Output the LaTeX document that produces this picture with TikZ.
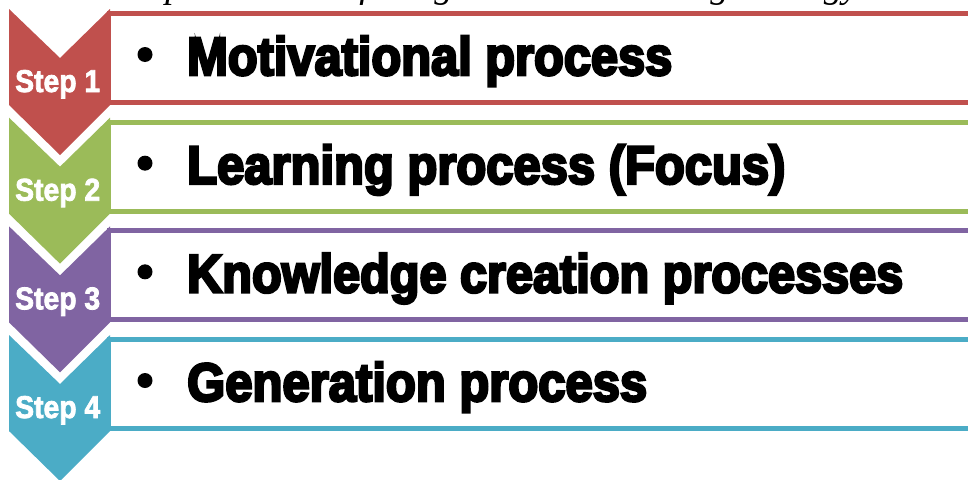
\documentclass[tikz,border=0pt]{standalone}
\usepackage{fontspec}
\usepackage{graphicx}
\setmainfont{Liberation Serif}
\newfontfamily\heavyfont[FakeBold=5]{Liberation Sans}
\newfontfamily\stepfont[FakeBold=2.5]{Liberation Sans}
\definecolor{cRed}{HTML}{C0504D}
\definecolor{cGreen}{HTML}{9BBB59}
\definecolor{cPurple}{HTML}{8064A2}
\definecolor{cTeal}{HTML}{4BACC6}
\tikzset{
  itembox/.style={line width=4.7pt, fill=white},
  steplabel/.style={anchor=base west, inner sep=0pt, text=white},
  itemtext/.style={anchor=base west, inner sep=0pt, text=black},
  bulletdot/.style={circle, fill=black, inner sep=0pt, minimum size=15pt},
}
\begin{document}
\begin{tikzpicture}[x=1pt,y=-1pt]
\useasboundingbox (0,0) rectangle (968,479);
\clip (0,0) rectangle (968,479);
\fill[white] (0,0) rectangle (968,479);
\node[anchor=base west, inner sep=0pt, font=\itshape\fontsize{37.5}{40}\selectfont] (caption) at (110,-2.5) {the procedures of the generative learning strategy};
\foreach \i/\col/\txt/\w in {0/cRed/Motivational process/485, 1/cGreen/Learning process (Focus)/598, 2/cPurple/Knowledge creation processes/716, 3/cTeal/Generation process/460}
{
  \pgfmathsetmacro{\y}{9+108.67*\i}
  \pgfmathtruncatemacro{\n}{\i+1}
  \draw[itembox, draw=\col] (109,{\y+4.5}) rectangle (995,{\y+93.5});
  \fill[\col] (9,\y) -- (60,{\y+49}) -- (110,\y) -- (110,{\y+96}) -- (60,{\y+146}) -- (9,{\y+96}) -- cycle;
  \node[steplabel] (step\n) at (15,{\y+83}) {\resizebox{85pt}{22pt}{\stepfont\bfseries Step \n}};
  \node[bulletdot] (bullet\n) at (145,{\y+45.5}) {};
  \node[itemtext] (item\n) at (187,{\y+66}) {\resizebox{\w pt}{39pt}{\heavyfont\bfseries \txt}};
}
\end{tikzpicture}
\end{document}
